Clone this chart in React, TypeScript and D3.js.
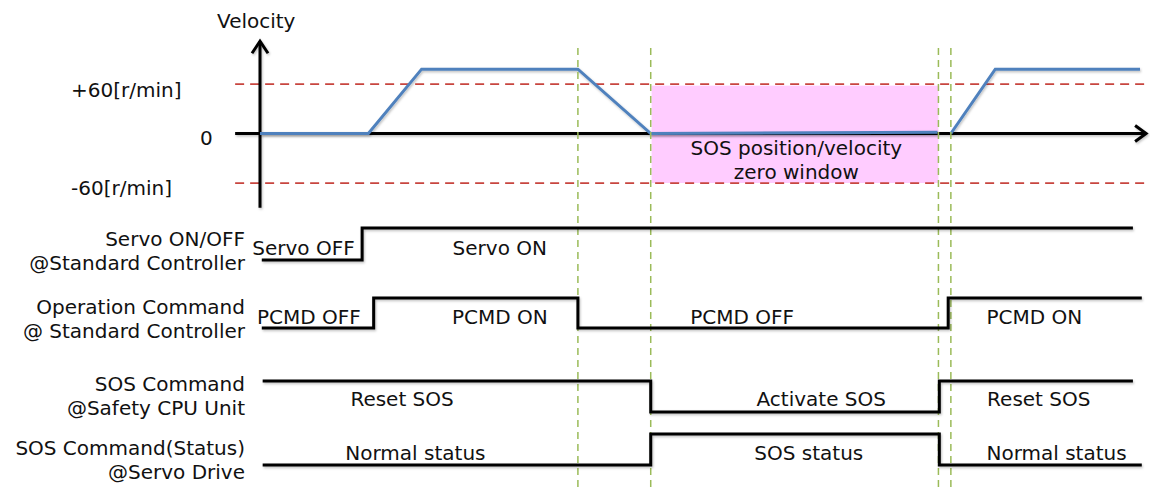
import * as d3 from "d3";

// time in arbitrary units (0..1000), velocity in r/min
const velocityRun1: [number, number][] = [[0, 0], [122, 0], [182, 78], [358, 78], [440, 0], [763, 1.5]];
const velocityRun2: [number, number][] = [[778, 0], [828, 78], [991, 78]];
const speedLimits = [60, -60];
const zeroWindow = {start: 441, end: 764, top: 58, bottom: -60};
const eventTimes = [358, 440, 764, 778];

// signal steps: [time, level] (level 1 = high)
const servoSteps: [number, number][] = [[2, 0], [115, 1], [983, 1]];
const pcmdSteps: [number, number][] = [[2, 0], [128, 1], [358, 0], [775, 1], [993, 1]];
const sosCmdSteps: [number, number][] = [[3, 1], [440, 0], [765, 1], [983, 1]];
const sosStatusSteps: [number, number][] = [[3, 0], [440, 1], [765, 0], [993, 0]];

const servoLabels: [string, number][] = [["Servo OFF", 49], ["Servo ON", 270]];
const pcmdLabels: [string, number][] = [["PCMD OFF", 55], ["PCMD ON", 270], ["PCMD OFF", 543], ["PCMD ON", 872]];
const sosCmdLabels: [string, number][] = [["Reset SOS", 160], ["Activate SOS", 632], ["Reset SOS", 877]];
const sosStatusLabels: [string, number][] = [["Normal status", 175], ["SOS status", 618], ["Normal status", 897]];

const rowNames = [
  ["Servo ON/OFF", "@Standard Controller"],
  ["Operation Command", "@ Standard Controller"],
  ["SOS Command", "@Safety CPU Unit"],
  ["SOS Command(Status)", "@Servo Drive"],
];

const WIDTH = 1150;
const HEIGHT = 487;
const FONT = "'DejaVu Sans', Verdana, sans-serif";
const BLUE = "#4f81bd";
const RED = "#c8453f";
const GREEN = "#9bbb59";
const PINK = "#ffccff";

// row layout: low / high y of each signal trace and baselines of its name
const ROWS = [
  {low: 260, high: 228, name: [246, 270], dy: -5},
  {low: 328, high: 298, name: [314, 338], dy: -4},
  {low: 412, high: 381, name: [391, 415], dy: -6},
  {low: 465, high: 434, name: [455, 479], dy: -5},
];

const App = () => {
  const x = d3.scaleLinear().domain([0, 1000]).range([260, 1148]);
  const v = d3.scaleLinear().domain([-60, 60]).range([183, 84]);

  const velLine = d3.line<[number, number]>().x(d => x(d[0])).y(d => v(d[1]));

  const signals = [servoSteps, pcmdSteps, sosCmdSteps, sosStatusSteps];
  const labels = [servoLabels, pcmdLabels, sosCmdLabels, sosStatusLabels];

  const x0 = x(0);
  const y0 = v(0);
  const vTop = v(113);
  const vBottom = v(-90);
  const xEnd = x(999);

  return (
    <svg width={WIDTH} height={HEIGHT} style={{position: "absolute", left: 0, top: 0, display: "block"}}
         fontFamily={FONT} fontSize={20} fill="#111">
      <defs>
        <filter id="shadow" x="-5%" y="-5%" width="110%" height="130%">
          <feDropShadow dx="1" dy="1.5" stdDeviation="1" floodColor="#000" floodOpacity="0.25"/>
        </filter>
      </defs>

      {/* SOS zero window */}
      <rect x={x(zeroWindow.start)} y={v(zeroWindow.top)}
            width={x(zeroWindow.end) - x(zeroWindow.start)}
            height={v(zeroWindow.bottom) - v(zeroWindow.top)} fill={PINK}/>

      {/* speed limit lines */}
      {speedLimits.map((s, i) => (
        <line key={i} x1={x(-28)} x2={WIDTH} y1={v(s)} y2={v(s)}
              stroke={RED} strokeWidth={1.75} strokeDasharray="9,6"/>
      ))}

      {/* axes */}
      <g stroke="#000" strokeWidth={3} fill="none" filter="url(#shadow)">
        <line x1={x0} x2={x0} y1={vBottom} y2={vTop + 1}/>
        <polyline points={`${x0 - 8},${vTop + 13} ${x0},${vTop + 1} ${x0 + 8},${vTop + 13}`}/>
        <line x1={x(-28)} x2={xEnd - 1} y1={y0} y2={y0}/>
        <polyline points={`${xEnd - 12},${y0 - 8} ${xEnd - 1},${y0} ${xEnd - 12},${y0 + 8}`}/>
      </g>

      {/* velocity profile */}
      <g stroke={BLUE} strokeWidth={3} fill="none" filter="url(#shadow)">
        <path d={velLine(velocityRun1) ?? ""}/>
        <path d={velLine(velocityRun2) ?? ""}/>
      </g>

      {/* event markers */}
      {eventTimes.map((t, i) => (
        <line key={i} x1={x(t)} x2={x(t)} y1={48} y2={HEIGHT}
              stroke={GREEN} strokeWidth={1.5} strokeDasharray="7,5"/>
      ))}

      {/* velocity labels */}
      <text x={x0 - 43} y={28}>Velocity</text>
      <text x={71} y={v(60) + 13}>+60[r/min]</text>
      <text x={200} y={y0 + 11}>0</text>
      <text x={71} y={v(-60) + 12}>-60[r/min]</text>
      <text x={x(604)} y={155} textAnchor="middle">SOS position/velocity</text>
      <text x={x(604)} y={179} textAnchor="middle">zero window</text>

      {/* signal traces */}
      {signals.map((steps, i) => {
        const row = ROWS[i];
        const lv = d3.scaleLinear().domain([0, 1]).range([row.low, row.high]);
        const step = d3.line<[number, number]>()
          .x(d => x(d[0])).y(d => lv(d[1])).curve(d3.curveStepAfter);
        return (
          <g key={i}>
            <path d={step(steps) ?? ""} stroke="#000" strokeWidth={3} fill="none" filter="url(#shadow)"/>
            {labels[i].map(([txt, t], j) => (
              <text key={j} x={x(t)} y={row.low + row.dy} textAnchor="middle">{txt}</text>
            ))}
            {rowNames[i].map((n, j) => (
              <text key={"n" + j} x={245} y={row.name[j]} textAnchor="end">{n}</text>
            ))}
          </g>
        );
      })}
    </svg>
  );
};

export default App;
